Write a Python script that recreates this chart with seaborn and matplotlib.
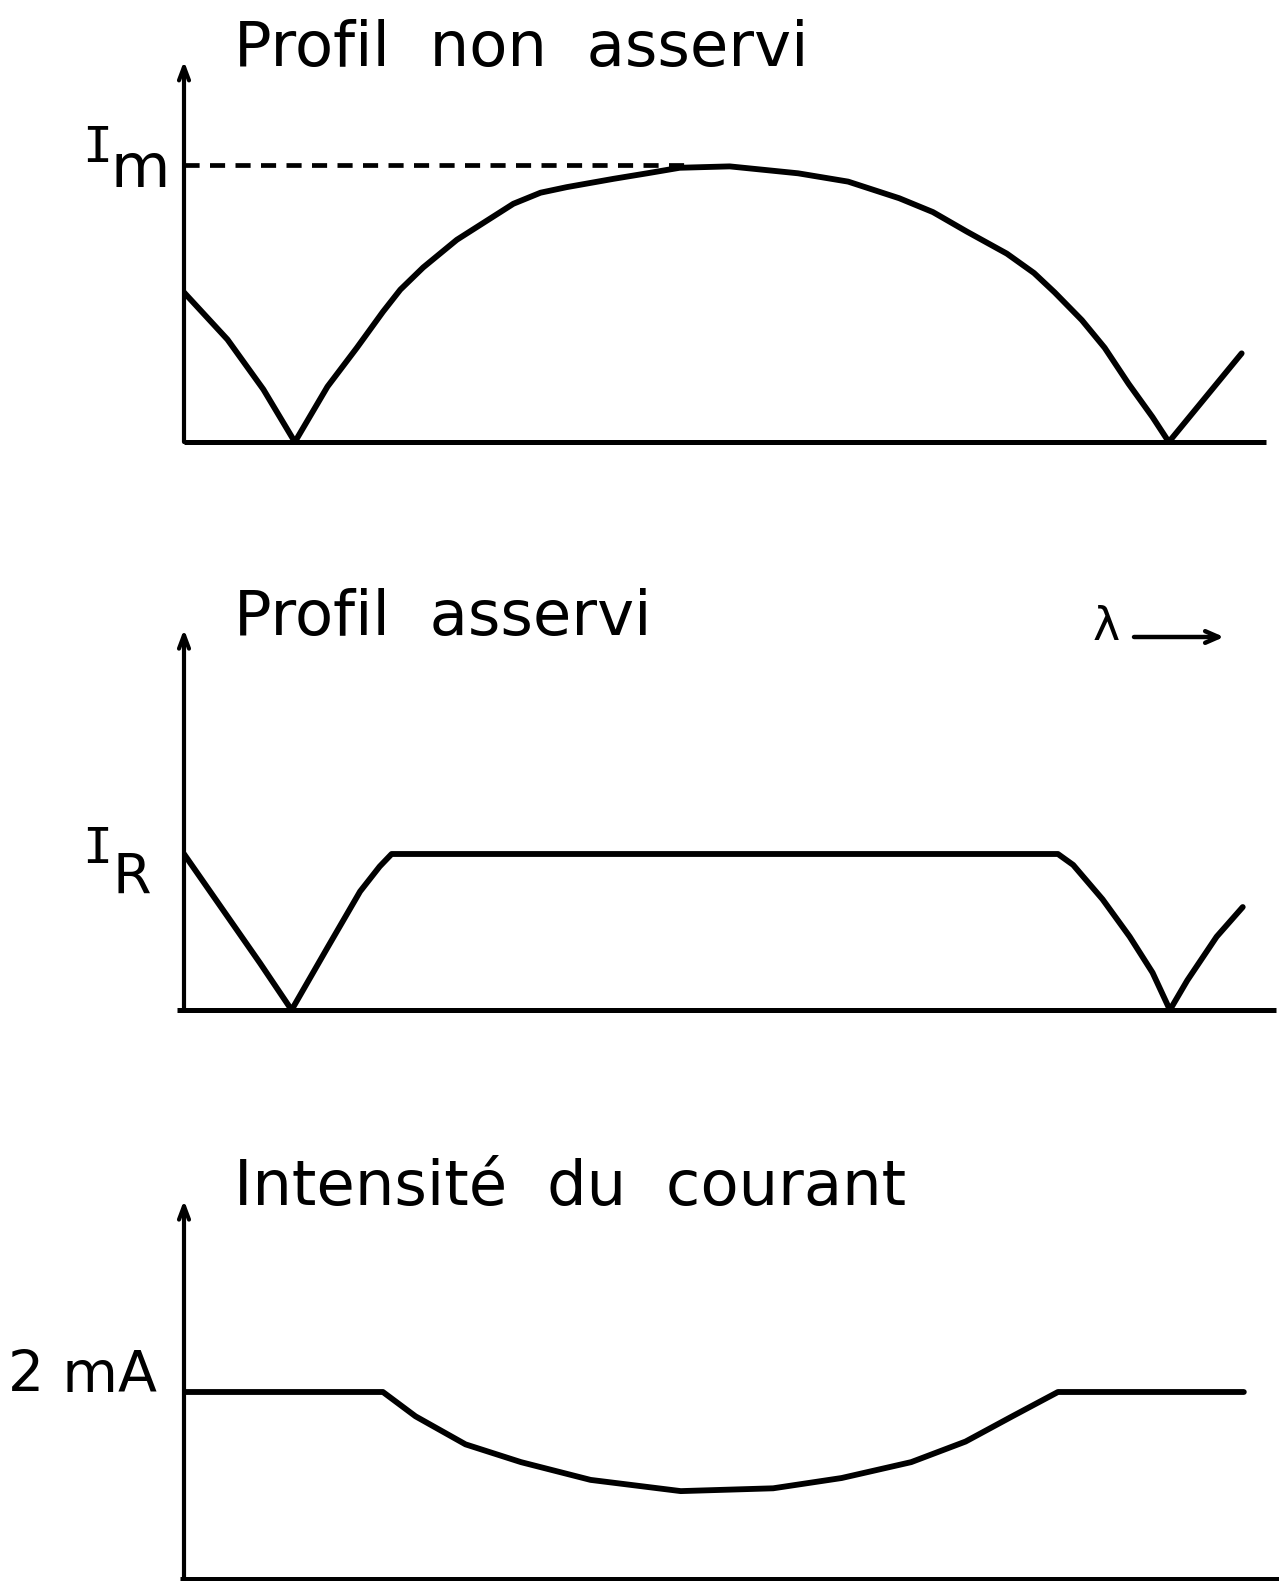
import numpy as np
import pandas as pd
import seaborn as sns
import matplotlib.pyplot as plt

# wavelength axis in arbitrary units (0 = y axis, 100 = right end)
# panel 1 : profil non asservi (intensity relative to I_m)
lam_libre = [0, 4.0, 7.3, 10.2, 13.2, 15.9, 18.3, 19.9, 22.0, 25.1, 27.5, 30.3, 32.8,
             35.2, 39.5, 42.6, 45.6, 50.2, 56.5, 61.1, 65.8, 68.9, 72.0, 75.7, 78.2,
             80.1, 82.6, 84.7, 86.9, 89.1, 90.6, 97.3]
int_libre = [0.54, 0.37, 0.19, 0.0, 0.20, 0.34, 0.47, 0.55, 0.63, 0.73, 0.79, 0.86, 0.90,
             0.92, 0.95, 0.97, 0.99, 0.995, 0.97, 0.94, 0.88, 0.83, 0.76, 0.68, 0.61,
             0.54, 0.44, 0.34, 0.21, 0.09, 0.0, 0.32]
lam_im_end = 46.6

# panel 2 : profil asservi (intensity relative to I_R)
lam_asservi = [0, 3.6, 7.0, 9.9, 13.2, 16.2, 18.0, 19.1, 80.4, 81.8, 84.5, 87.0, 89.1,
               90.7, 92.3, 95.0, 97.4]
int_asservi = [1.0, 0.64, 0.30, 0.0, 0.40, 0.76, 0.92, 1.0, 1.0, 0.93, 0.71, 0.47, 0.24,
               0.0, 0.19, 0.47, 0.66]

# panel 3 : intensité du courant (mA)
lam_courant = [0, 18.3, 21.3, 25.9, 31.0, 37.4, 45.7, 54.2, 60.5, 66.9, 71.9, 76.2, 80.4, 97.5]
courant_ma = [2.0, 2.0, 1.74, 1.44, 1.25, 1.06, 0.94, 0.97, 1.08, 1.25, 1.47, 1.74, 2.0, 2.0]

titles = ["Profil  non  asservi", "Profil  asservi", "Intensité  du  courant"]

sns.set_theme(style="white")
plt.rcParams["font.family"] = ["DejaVu Sans"]
plt.rcParams["text.color"] = "black"

W, H = 1279.0, 1581.0
fig = plt.figure(figsize=(W / 100, H / 100), dpi=100)
fig.patch.set_facecolor("white")

CURVE_LW = 4.2
AXIS_LW = 3.0
X0, XSCALE = 184, 10.87   # pixel of lambda=0, pixels per lambda unit


def panel(base_px, px_per_unit, ytop, arrow_top):
    ax = fig.add_axes([X0 / W, 1 - base_px / H, 100 * XSCALE / W, ytop * px_per_unit / H])
    ax.set_xlim(0, 100)
    ax.set_ylim(0, ytop)
    ax.axis("off")
    # vertical axis with open arrow head
    ax.annotate("", xy=(0, arrow_top), xytext=(0, 0),
                arrowprops=dict(arrowstyle="->,head_length=0.8,head_width=0.3",
                                lw=AXIS_LW, color="black", shrinkA=0, shrinkB=0),
                annotation_clip=False)
    return ax


def curve(ax, x, y):
    df = pd.DataFrame({"lam": x, "val": y})
    sns.lineplot(data=df, x="lam", y="val", ax=ax, sort=False, estimator=None,
                 color="black", lw=CURVE_LW, solid_joinstyle="round",
                 solid_capstyle="round", legend=False)


# ---- panel 1
ax1 = panel(442, 277, 1.4, 1.375)
ax1.plot([0, 99.5], [0, 0], color="black", lw=AXIS_LW + 0.6, clip_on=False, solid_capstyle="butt")
ax1.plot([0, lam_im_end], [1.0, 1.0], color="black", lw=3.4, ls=(0, (3.2, 2.2)), clip_on=False)
curve(ax1, lam_libre, int_libre)

# ---- panel 2
ax2 = panel(1010, 156, 2.6, 2.44)
ax2.plot([-0.6, 100.5], [0, 0], color="black", lw=AXIS_LW + 0.6, clip_on=False, solid_capstyle="butt")
curve(ax2, lam_asservi, int_asservi)

# ---- panel 3
ax3 = panel(1579, 93.5, 4.3, 4.05)
ax3.plot([-0.4, 102], [0, 0], color="black", lw=AXIS_LW + 0.6, clip_on=False, solid_capstyle="butt")
curve(ax3, lam_courant, courant_ma)

# titles
for t, base in zip(titles, [66, 635, 1205]):
    fig.text(234 / W, 1 - base / H, t, fontsize=45, va="baseline", ha="left")

# level labels
fig.text(82 / W, 1 - 162 / H, "I", family="DejaVu Sans Mono", fontsize=36, va="baseline")
fig.text(110 / W, 1 - 187 / H, "m", fontsize=44, va="baseline")
fig.text(82 / W, 1 - 863 / H, "I", family="DejaVu Sans Mono", fontsize=36, va="baseline")
fig.text(112 / W, 1 - 893 / H, "R", fontsize=40, va="baseline")
fig.text(8 / W, 1 - 1392 / H, "2 mA", fontsize=41, va="baseline")

# lambda direction
fig.text(1093 / W, 1 - 640 / H, "λ", fontsize=33, va="baseline")
ax2.annotate("", xy=(1224 / W, 1 - 637 / H), xytext=(1134 / W, 1 - 637 / H),
             xycoords="figure fraction", textcoords="figure fraction",
             arrowprops=dict(arrowstyle="->,head_length=0.8,head_width=0.35",
                             lw=3.2, color="black", shrinkA=0, shrinkB=0))

fig.savefig("out.png", dpi=100, facecolor="white")
